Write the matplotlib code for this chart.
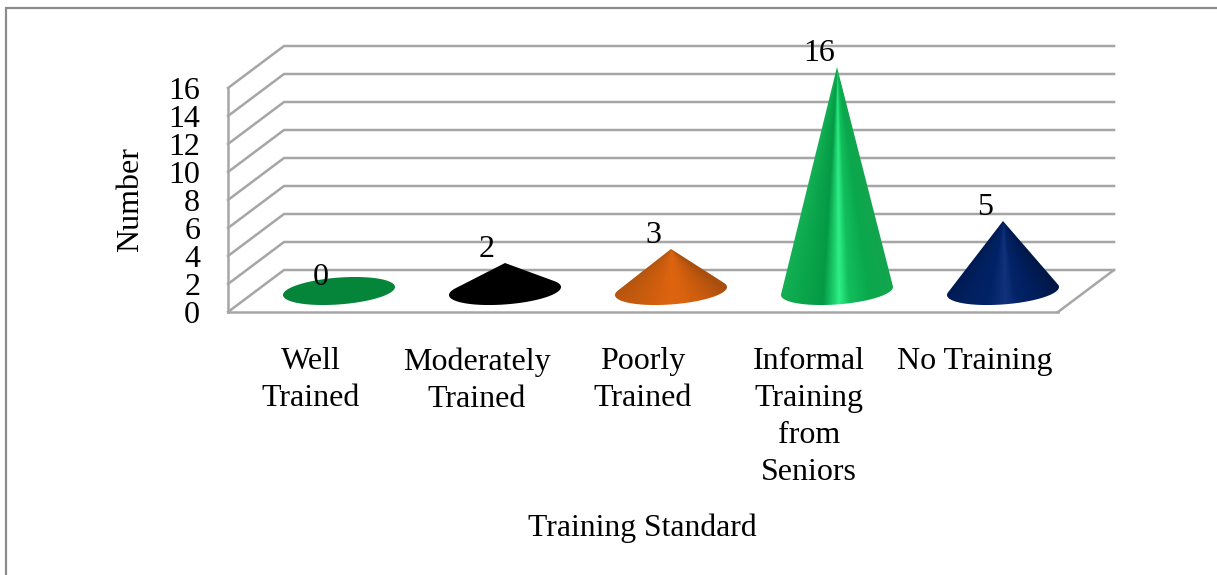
import numpy as np
import matplotlib
matplotlib.use("Agg")
import matplotlib.pyplot as plt
from matplotlib.colors import LinearSegmentedColormap
from matplotlib.lines import Line2D
from matplotlib.patches import Polygon

categories = ["Well\nTrained", "Moderately\nTrained", "Poorly\nTrained",
              "Informal\nTraining\nfrom\nSeniors", "No Training"]
values = [0, 2, 3, 16, 5]
y_ticks = [0, 2, 4, 6, 8, 10, 12, 14, 16]

# colour stops across each cone, from left edge to right edge
shade_stops = [0.0, 0.2, 0.375, 0.475, 0.515, 0.6, 0.775, 1.0]
cone_shades = [
    ["#05853A"] * 8,
    ["#000000"] * 8,
    ["#B3540F", "#C45A0E", "#D25F0E", "#DC6410", "#DE6510", "#D8620F", "#C65A0E", "#A94F0F"],
    ["#14B054", "#0AA54B", "#049A45", "#1FD46F", "#2FF088", "#12BE5C", "#0AA84D", "#13A54E"],
    ["#001A52", "#00205E", "#002266", "#0C2C74", "#12337C", "#042468", "#001E5C", "#001848"],
]

GRID = "#A6A6A6"
FRAME = "#8C8C8C"
W, H = 1217, 575

# depth of the 3D box in data units
DEPTH_X = 56 / 166
DEPTH_Y = 3.0
CONE_A = 56 / 166   # half width of a cone base
CONE_B = 0.96       # half height of a cone base
CONE_TILT = 0.286   # right end of the base sits higher than the left

plt.rcParams["font.family"] = ["Liberation Serif", "DejaVu Serif"]

fig = plt.figure(figsize=(W / 100, H / 100), dpi=100, facecolor="white")
# the axes rectangle is the front plane of the box
ax = fig.add_axes([228 / W, 1 - 312 / H, 830 / W, 224 / H])
ax.set_xlim(-0.5, 4.5)
ax.set_ylim(0, 16)
ax.patch.set_visible(False)

for side in ["top", "right"]:
    ax.spines[side].set_visible(False)
for side in ["left", "bottom"]:
    ax.spines[side].set_color(GRID)
    ax.spines[side].set_linewidth(1.8)

ax.set_yticks(y_ticks)
ax.set_xticks(range(len(categories)))
ax.set_xticklabels(categories, linespacing=1.355)
ax.tick_params(axis="y", length=0, pad=20, labelsize=23)
ax.tick_params(axis="x", length=0, pad=25.5, labelsize=23)

ax.set_xlabel("Training Standard", fontsize=22.8)
ax.xaxis.set_label_coords((642 - 228) / 830, -(528 - 312) / 224)
ax.xaxis.label.set_verticalalignment("center")
ax.set_ylabel("Number", fontsize=23)
ax.yaxis.set_label_coords((131 - 228) / 830, 0.5)
ax.yaxis.label.set_verticalalignment("center")

# back wall gridlines and the side wall going back to them
x_left, x_right = ax.get_xlim()
for tick in y_ticks:
    ax.plot([x_left, x_left + DEPTH_X, x_right + DEPTH_X],
            [tick, tick + DEPTH_Y, tick + DEPTH_Y],
            color=GRID, lw=1.8, clip_on=False, zorder=1, solid_joinstyle="miter")
ax.plot([x_right, x_right + DEPTH_X], [0, DEPTH_Y], color=GRID, lw=1.8,
        clip_on=False, zorder=1)


def draw_cone(center, height, shades):
    base_y = DEPTH_Y / 2
    n = 360
    t = np.linspace(0, 2 * np.pi, n + 1)[:-1]
    ex = center + CONE_A * np.cos(t)
    ey = base_y + CONE_TILT * np.cos(t) + CONE_B * np.sin(t)

    if height == 0:
        ax.add_patch(Polygon(np.column_stack([ex, ey]), closed=True, facecolor=shades[0],
                             edgecolor="none", clip_on=False, zorder=3))
        return

    # outline: apex plus the arc between the two tangent points, round the front
    apex_y = base_y + height
    ratio = (ex - center) / (apex_y - ey)
    i_right, i_left = int(np.argmax(ratio)), int(np.argmin(ratio))
    steps = (i_right - i_left) % n
    idx = (i_right - np.arange(steps + 1)) % n
    outline = np.vstack([[center, apex_y], np.column_stack([ex[idx], ey[idx]])])
    clip = Polygon(outline, closed=True, facecolor="none", edgecolor="none",
                   clip_on=False, zorder=3)
    ax.add_patch(clip)

    # shading runs along rays from the apex
    cmap = LinearSegmentedColormap.from_list("cone", list(zip(shade_stops, shades)))
    y_lo, y_hi = base_y - 1.4, apex_y + 0.1
    gx = np.linspace(center - CONE_A - 0.02, center + CONE_A + 0.02, 260)
    gy = np.linspace(y_lo, y_hi, 400)
    xx, yy = np.meshgrid(gx, gy)
    span = np.clip((apex_y - yy) / height, 1e-3, None)
    u = (xx - center) / (CONE_A * span)
    im = ax.imshow(cmap(np.clip((u + 1) / 2, 0, 1)), origin="lower", aspect="auto",
                   extent=[gx[0], gx[-1], y_lo, y_hi], interpolation="bilinear", zorder=3)
    # the tall cone rises above the axes rectangle
    im.set_clip_box(fig.bbox)
    im.set_clip_path(clip)


for i, value in enumerate(values):
    center = i + DEPTH_X / 2
    draw_cone(center, value, cone_shades[i])
    ax.annotate(str(value), xy=(center, DEPTH_Y / 2 + value), xytext=(-18, 13.5),
                textcoords="offset pixels", ha="center", va="center",
                fontsize=23, color="black", zorder=5, annotation_clip=False)

ax.set_xlim(x_left, x_right)
ax.set_ylim(0, 16)

# outer chart border, only top and left show
fig.add_artist(Line2D([6 / W, 6 / W, 1], [0, 1 - 8 / H, 1 - 8 / H], color=FRAME, lw=1.6,
                      transform=fig.transFigure, solid_joinstyle="miter"))

fig.savefig("out.png", dpi=100)
